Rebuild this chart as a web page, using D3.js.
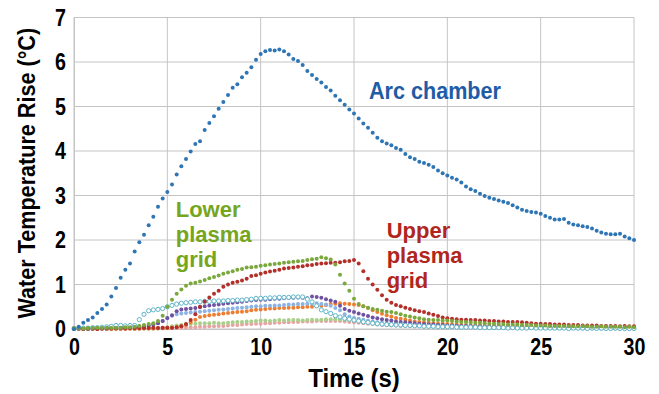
<!DOCTYPE html>
<html>
<head>
<meta charset="utf-8">
<script src="https://cdn.jsdelivr.net/npm/d3@7/dist/d3.min.js"></script>
<style>
  body { margin: 0; background: #fff; }
  text { font-family: "Liberation Sans", Arial, sans-serif; font-weight: bold; }
</style>
</head>
<body>
<figure id="chart" style="margin:0"></figure>
<script>
// samples every 0.25 s, 0..30 s (8 values per line = 2 s)
const timeStep = 0.25;

const arcChamber = [
  0.00, 0.05, 0.14, 0.20, 0.26, 0.36, 0.45, 0.55,
  0.73, 0.92, 1.15, 1.33, 1.47, 1.74, 1.95, 2.12,
  2.33, 2.52, 2.75, 2.93, 3.08, 3.25, 3.47, 3.66,
  3.82, 3.99, 4.16, 4.22, 4.47, 4.63, 4.78, 4.95,
  5.10, 5.26, 5.42, 5.50, 5.66, 5.76, 5.88, 6.05,
  6.18, 6.24, 6.27, 6.26, 6.28, 6.24, 6.17, 6.07,
  6.02, 5.93, 5.80, 5.71, 5.62, 5.54, 5.44, 5.36,
  5.24, 5.14, 5.04, 4.93, 4.84, 4.73, 4.62, 4.52,
  4.41, 4.30, 4.22, 4.17, 4.13, 4.07, 4.03, 3.93,
  3.86, 3.82, 3.76, 3.73, 3.69, 3.64, 3.56, 3.50,
  3.45, 3.40, 3.36, 3.29, 3.20, 3.14, 3.10, 3.04,
  2.99, 2.95, 2.92, 2.89, 2.86, 2.83, 2.78, 2.73,
  2.68, 2.65, 2.63, 2.62, 2.59, 2.54, 2.50, 2.46,
  2.46, 2.47, 2.39, 2.35, 2.33, 2.31, 2.29, 2.26,
  2.21, 2.17, 2.14, 2.13, 2.13, 2.14, 2.08, 2.04,
  2.00
];

const lowerGrid = [
  0.02, 0.02, 0.01, 0.02, 0.02, 0.03, 0.02, 0.03,
  0.02, 0.03, 0.03, 0.04, 0.04, 0.05, 0.07, 0.09,
  0.11, 0.13, 0.18, 0.30, 0.50, 0.66, 0.79, 0.89,
  0.97, 1.02, 1.04, 1.07, 1.10, 1.14, 1.17, 1.20,
  1.24, 1.27, 1.30, 1.33, 1.35, 1.38, 1.39, 1.40,
  1.42, 1.43, 1.45, 1.46, 1.47, 1.49, 1.50, 1.51,
  1.52, 1.53, 1.55, 1.57, 1.58, 1.61, 1.59, 1.56,
  1.45, 1.22, 1.02, 0.86, 0.68, 0.56, 0.51, 0.48,
  0.45, 0.43, 0.41, 0.39, 0.38, 0.36, 0.33, 0.30,
  0.28, 0.26, 0.24, 0.22, 0.21, 0.20, 0.20, 0.19,
  0.19, 0.18, 0.17, 0.16, 0.16, 0.15, 0.14, 0.14,
  0.13, 0.12, 0.12, 0.11, 0.11, 0.10, 0.10, 0.10,
  0.09, 0.09, 0.09, 0.08, 0.08, 0.08, 0.07, 0.07,
  0.07, 0.07, 0.06, 0.06, 0.06, 0.06, 0.06, 0.05,
  0.05, 0.06, 0.05, 0.05, 0.05, 0.05, 0.04, 0.05,
  0.04
];

const upperGrid = [
  0.01, 0.01, 0.00, 0.01, 0.01, 0.00, 0.01, 0.01,
  0.01, 0.01, 0.02, 0.01, 0.02, 0.02, 0.02, 0.02,
  0.02, 0.03, 0.02, 0.03, 0.03, 0.03, 0.04, 0.06,
  0.11, 0.20, 0.33, 0.50, 0.62, 0.71, 0.79, 0.86,
  0.95, 1.00, 1.04, 1.06, 1.09, 1.13, 1.19, 1.21,
  1.24, 1.27, 1.29, 1.31, 1.33, 1.36, 1.37, 1.38,
  1.40, 1.41, 1.43, 1.44, 1.46, 1.47, 1.48, 1.49,
  1.49, 1.50, 1.52, 1.53, 1.55, 1.47, 1.30, 1.13,
  1.00, 0.88, 0.76, 0.66, 0.59, 0.54, 0.51, 0.48,
  0.45, 0.42, 0.40, 0.38, 0.35, 0.32, 0.29, 0.26,
  0.24, 0.23, 0.22, 0.21, 0.21, 0.20, 0.20, 0.19,
  0.19, 0.18, 0.18, 0.17, 0.17, 0.16, 0.16, 0.16,
  0.15, 0.14, 0.13, 0.12, 0.12, 0.11, 0.11, 0.10,
  0.10, 0.10, 0.09, 0.09, 0.09, 0.08, 0.08, 0.08,
  0.08, 0.07, 0.07, 0.07, 0.07, 0.06, 0.07, 0.06,
  0.06
];

const purpleSeries = [
  0.01, 0.01, 0.01, 0.00, 0.01, 0.01, 0.01, 0.02,
  0.02, 0.02, 0.02, 0.03, 0.03, 0.03, 0.04, 0.05,
  0.07, 0.10, 0.13, 0.18, 0.25, 0.31, 0.40, 0.44,
  0.45, 0.46, 0.47, 0.49, 0.51, 0.53, 0.54, 0.55,
  0.57, 0.58, 0.59, 0.60, 0.61, 0.63, 0.64, 0.65,
  0.66, 0.66, 0.67, 0.68, 0.68, 0.69, 0.70, 0.70,
  0.71, 0.70, 0.69, 0.73, 0.72, 0.70, 0.67, 0.64,
  0.61, 0.52, 0.45, 0.41, 0.38, 0.35, 0.32, 0.29,
  0.26, 0.24, 0.22, 0.20, 0.19, 0.17, 0.16, 0.15,
  0.14, 0.13, 0.12, 0.11, 0.10, 0.10, 0.09, 0.09,
  0.08, 0.08, 0.07, 0.07, 0.07, 0.06, 0.06, 0.06,
  0.06, 0.05, 0.05, 0.06, 0.05, 0.05, 0.05, 0.04,
  0.05, 0.04, 0.05, 0.04, 0.04, 0.05, 0.04, 0.04,
  0.04, 0.05, 0.04, 0.04, 0.04, 0.03, 0.04, 0.04,
  0.03, 0.04, 0.04, 0.03, 0.04, 0.03, 0.03, 0.04,
  0.03
];

const cyanSeries = [
  0.01, 0.02, 0.02, 0.02, 0.03, 0.03, 0.04, 0.05,
  0.06, 0.08, 0.08, 0.07, 0.08, 0.08, 0.21, 0.33,
  0.41, 0.43, 0.44, 0.46, 0.50, 0.53, 0.56, 0.58,
  0.59, 0.60, 0.61, 0.61, 0.62, 0.62, 0.63, 0.63,
  0.63, 0.64, 0.64, 0.65, 0.65, 0.66, 0.67, 0.69,
  0.69, 0.69, 0.70, 0.70, 0.71, 0.71, 0.71, 0.72,
  0.72, 0.72, 0.67, 0.61, 0.52, 0.43, 0.39, 0.35,
  0.30, 0.27, 0.24, 0.22, 0.20, 0.18, 0.16, 0.15,
  0.13, 0.12, 0.11, 0.10, 0.10, 0.09, 0.09, 0.08,
  0.08, 0.07, 0.07, 0.06, 0.06, 0.06, 0.05, 0.05,
  0.05, 0.05, 0.04, 0.04, 0.04, 0.04, 0.04, 0.03,
  0.03, 0.03, 0.03, 0.03, 0.03, 0.02, 0.03, 0.02,
  0.02, 0.02, 0.03, 0.02, 0.02, 0.02, 0.02, 0.02,
  0.02, 0.02, 0.01, 0.02, 0.02, 0.02, 0.01, 0.02,
  0.01, 0.02, 0.01, 0.01, 0.02, 0.01, 0.01, 0.01,
  0.01
];

const lightBlueSeries = [
  0.00, 0.01, 0.00, 0.01, 0.01, 0.01, 0.01, 0.01,
  0.02, 0.02, 0.03, 0.03, 0.04, 0.05, 0.06, 0.07,
  0.08, 0.10, 0.13, 0.18, 0.24, 0.30, 0.33, 0.35,
  0.36, 0.37, 0.38, 0.39, 0.40, 0.41, 0.42, 0.43,
  0.44, 0.45, 0.46, 0.47, 0.48, 0.49, 0.50, 0.51,
  0.51, 0.52, 0.52, 0.53, 0.53, 0.54, 0.55, 0.55,
  0.56, 0.56, 0.57, 0.57, 0.58, 0.56, 0.55, 0.52,
  0.47, 0.42, 0.33, 0.28, 0.25, 0.23, 0.21, 0.19,
  0.17, 0.15, 0.14, 0.13, 0.12, 0.11, 0.10, 0.10,
  0.09, 0.08, 0.08, 0.07, 0.07, 0.06, 0.06, 0.06,
  0.05, 0.05, 0.05, 0.05, 0.04, 0.04, 0.04, 0.04,
  0.04, 0.03, 0.04, 0.03, 0.03, 0.03, 0.03, 0.03,
  0.03, 0.02, 0.03, 0.02, 0.02, 0.03, 0.02, 0.02,
  0.02, 0.02, 0.02, 0.02, 0.02, 0.01, 0.02, 0.02,
  0.02, 0.01, 0.02, 0.01, 0.01, 0.02, 0.01, 0.01,
  0.01
];

const orangeSeries = [
  0.00, 0.00, 0.00, 0.00, 0.00, 0.00, 0.01, 0.00,
  0.00, 0.01, 0.00, 0.01, 0.01, 0.00, 0.01, 0.01,
  0.01, 0.01, 0.02, 0.02, 0.02, 0.03, 0.04, 0.06,
  0.09, 0.15, 0.21, 0.27, 0.29, 0.31, 0.32, 0.33,
  0.35, 0.36, 0.37, 0.38, 0.39, 0.40, 0.42, 0.43,
  0.44, 0.45, 0.46, 0.46, 0.47, 0.47, 0.48, 0.48,
  0.49, 0.49, 0.50, 0.50, 0.51, 0.52, 0.54, 0.56,
  0.57, 0.58, 0.57, 0.56, 0.55, 0.54, 0.51, 0.47,
  0.42, 0.38, 0.34, 0.31, 0.28, 0.25, 0.23, 0.21,
  0.19, 0.17, 0.16, 0.15, 0.14, 0.13, 0.12, 0.12,
  0.11, 0.10, 0.10, 0.09, 0.09, 0.08, 0.08, 0.08,
  0.07, 0.07, 0.07, 0.06, 0.06, 0.06, 0.06, 0.05,
  0.05, 0.05, 0.05, 0.05, 0.04, 0.04, 0.05, 0.04,
  0.04, 0.04, 0.04, 0.04, 0.03, 0.04, 0.03, 0.03,
  0.03, 0.03, 0.03, 0.03, 0.03, 0.02, 0.03, 0.03,
  0.02
];

const paleGreenSeries = [
  0.01, 0.00, 0.01, 0.01, 0.00, 0.01, 0.01, 0.00,
  0.01, 0.01, 0.00, 0.01, 0.01, 0.01, 0.00, 0.01,
  0.01, 0.01, 0.01, 0.02, 0.04, 0.06, 0.08, 0.09,
  0.10, 0.11, 0.12, 0.13, 0.13, 0.13, 0.14, 0.13,
  0.13, 0.14, 0.15, 0.16, 0.16, 0.17, 0.17, 0.18,
  0.19, 0.19, 0.18, 0.19, 0.20, 0.19, 0.20, 0.20,
  0.20, 0.19, 0.20, 0.21, 0.20, 0.21, 0.22, 0.22,
  0.22, 0.21, 0.21, 0.20, 0.20, 0.19, 0.18, 0.16,
  0.15, 0.14, 0.13, 0.12, 0.11, 0.10, 0.10, 0.09,
  0.09, 0.08, 0.08, 0.07, 0.07, 0.07, 0.06, 0.06,
  0.06, 0.06, 0.05, 0.05, 0.05, 0.05, 0.05, 0.04,
  0.04, 0.04, 0.04, 0.04, 0.04, 0.04, 0.03, 0.04,
  0.03, 0.03, 0.04, 0.03, 0.03, 0.03, 0.03, 0.03,
  0.03, 0.03, 0.02, 0.03, 0.03, 0.02, 0.03, 0.02,
  0.02, 0.03, 0.02, 0.02, 0.02, 0.02, 0.02, 0.02,
  0.02
];

const pinkSeries = [
  0.00, 0.00, 0.00, 0.00, 0.00, 0.00, 0.00, 0.00,
  0.00, 0.00, 0.01, 0.00, 0.00, 0.01, 0.00, 0.01,
  0.01, 0.01, 0.01, 0.01, 0.02, 0.02, 0.02, 0.03,
  0.03, 0.04, 0.04, 0.05, 0.05, 0.06, 0.06, 0.07,
  0.07, 0.08, 0.09, 0.09, 0.10, 0.11, 0.11, 0.12,
  0.12, 0.13, 0.13, 0.14, 0.14, 0.15, 0.15, 0.16,
  0.16, 0.17, 0.17, 0.17, 0.18, 0.18, 0.18, 0.18,
  0.18, 0.18, 0.17, 0.16, 0.15, 0.14, 0.13, 0.12,
  0.11, 0.10, 0.09, 0.09, 0.08, 0.08, 0.07, 0.07,
  0.06, 0.06, 0.06, 0.05, 0.05, 0.05, 0.05, 0.04,
  0.04, 0.04, 0.04, 0.04, 0.03, 0.04, 0.03, 0.03,
  0.03, 0.03, 0.03, 0.03, 0.03, 0.02, 0.03, 0.02,
  0.02, 0.02, 0.03, 0.02, 0.02, 0.02, 0.02, 0.02,
  0.02, 0.02, 0.02, 0.02, 0.01, 0.02, 0.02, 0.01,
  0.02, 0.01, 0.02, 0.01, 0.01, 0.02, 0.01, 0.01,
  0.01
];

const xTicks = [0, 5, 10, 15, 20, 25, 30];
const yTicks = [0, 1, 2, 3, 4, 5, 6, 7];

const xTitle = 'Time (s)';
const yTitle = 'Water Temperature Rise (°C)';

// drawn back to front
const series = [
  { name: 'pink', values: pinkSeries, color: '#e8a3a3', hollow: false },
  { name: 'paleGreen', values: paleGreenSeries, color: '#a9cf8c', hollow: false },
  { name: 'orange', values: orangeSeries, color: '#ed7d31', hollow: false },
  { name: 'lightBlue', values: lightBlueSeries, color: '#8db3e2', hollow: false },
  { name: 'purple', values: purpleSeries, color: '#7052a0', hollow: false },
  { name: 'cyan', values: cyanSeries, color: '#5fb5c9', hollow: true },
  { name: 'upper', values: upperGrid, color: '#b3302a', hollow: false },
  { name: 'lower', values: lowerGrid, color: '#7aa83c', hollow: false },
  { name: 'arc', values: arcChamber, color: '#2e75b6', hollow: false },
];

const labels = [
  { lines: ['Arc chamber'], t: 15.8, v: 5.17, color: '#1f5ba6', size: 24, sx: 0.9 },
  { lines: ['Lower', 'plasma', 'grid'], t: 5.45, v: 2.52, color: '#76a51e', size: 22, sx: 1 },
  { lines: ['Upper', 'plasma', 'grid'], t: 16.75, v: 2.04, color: '#b0261c', size: 22, sx: 1 },
];

const width = 659, height = 394;
const margin = { top: 17.5, right: 25, bottom: 65, left: 74 };
const innerW = width - margin.left - margin.right;
const innerH = height - margin.top - margin.bottom;

// the original uses a condensed bold face; squeeze Liberation Sans horizontally
const tickSx = 0.82;

function createSvg(selector) {
  return d3.select(selector)
    .append('svg')
    .attr('width', width)
    .attr('height', height)
    .append('g')
    .attr('transform', `translate(${margin.left},${margin.top})`);
}

function getScales() {
  const x = d3.scaleLinear().domain([0, 30]).range([0, innerW]);
  const y = d3.scaleLinear().domain([0, 7]).range([innerH, 0]);
  return { x, y };
}

function drawAxes(svg, x, y) {
  // gridlines
  svg.append('g')
    .selectAll('line')
    .data(xTicks)
    .join('line')
    .attr('x1', d => x(d)).attr('x2', d => x(d))
    .attr('y1', 0).attr('y2', innerH)
    .attr('stroke', '#c4c4c4').attr('stroke-width', 1);
  svg.append('g')
    .selectAll('line')
    .data(yTicks)
    .join('line')
    .attr('x1', 0).attr('x2', innerW)
    .attr('y1', d => y(d)).attr('y2', d => y(d))
    .attr('stroke', '#c4c4c4').attr('stroke-width', 1);

  const xAxis = svg.append('g')
    .attr('transform', `translate(0,${innerH})`)
    .call(d3.axisBottom(x).tickValues(xTicks).tickFormat(d3.format('d')).tickSize(0).tickPadding(9));
  const yAxis = svg.append('g')
    .call(d3.axisLeft(y).tickValues(yTicks).tickFormat(d3.format('d')).tickSize(0).tickPadding(8));

  [xAxis, yAxis].forEach(a => {
    a.select('.domain').attr('stroke', '#c4c4c4');
    a.selectAll('text')
      .attr('fill', '#000')
      .style('font-size', '24px')
      .style('font-family', null);
  });
  xAxis.selectAll('text').attr('transform', `scale(${tickSx},1)`);
  yAxis.selectAll('text')
    .attr('x', -8 / tickSx)
    .attr('transform', `scale(${tickSx},1)`);

  svg.append('text')
    .attr('transform', `translate(${innerW / 2},${innerH + 58}) scale(0.96,1)`)
    .attr('text-anchor', 'middle')
    .style('font-size', '25px')
    .text(xTitle);

  svg.append('text')
    .attr('transform', `translate(${-39},${innerH / 2}) rotate(-90) scale(0.9,1)`)
    .attr('text-anchor', 'middle')
    .style('font-size', '24px')
    .text(yTitle);
}

function drawSeries(svg, x, y) {
  series.forEach(s => {
    svg.append('g')
      .selectAll('circle')
      .data(s.values)
      .join('circle')
      .attr('cx', (d, i) => x(i * timeStep))
      .attr('cy', d => y(d))
      .attr('r', s.hollow ? 2.1 : 2)
      .attr('fill', s.hollow ? '#fff' : s.color)
      .attr('stroke', s.hollow ? s.color : 'none')
      .attr('stroke-width', s.hollow ? 1 : 0);
  });
}

function drawLabels(svg, x, y) {
  labels.forEach(l => {
    const t = svg.append('text')
      .attr('transform', `translate(${x(l.t)},${y(l.v)}) scale(${l.sx},1)`)
      .attr('fill', l.color)
      .style('font-size', l.size + 'px');
    l.lines.forEach((line, i) => {
      t.append('tspan')
        .attr('x', 0)
        .attr('dy', i === 0 ? 0 : 25)
        .text(line);
    });
  });
}

const svg = createSvg('#chart');
const { x, y } = getScales();
drawAxes(svg, x, y);
drawSeries(svg, x, y);
drawLabels(svg, x, y);
</script>
</body>
</html>
